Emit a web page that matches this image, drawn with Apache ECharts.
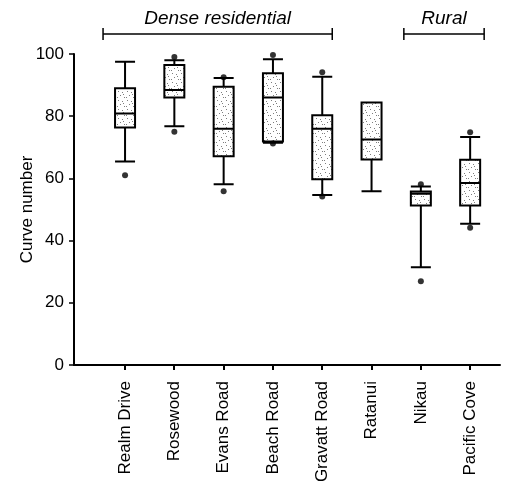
<!DOCTYPE html>
<html>
<head>
<meta charset="utf-8">
<script src="https://cdn.jsdelivr.net/npm/echarts@6/dist/echarts.min.js"></script>
<style>
  html, body { margin: 0; padding: 0; background: #fff; }
  #chart { width: 523px; height: 481px; }
</style>
</head>
<body>
<div id="chart"></div>
<script>
// Curve number distributions per catchment
const categories = ['Realm Drive', 'Rosewood', 'Evans Road', 'Beach Road', 'Gravatt Road', 'Ratanui', 'Nikau', 'Pacific Cove'];
const whiskerLow  = [65.4, 76.8, 58.1, 71.5, 54.7, 55.9, 31.4, 45.4];
const quartile1   = [76.4, 86.0, 67.1, 71.9, 59.7, 66.1, 51.3, 51.3];
const medians     = [80.9, 88.4, 76.0, 86.0, 76.0, 72.5, 55.1, 58.5];
const quartile3   = [89.0, 96.5, 89.5, 93.8, 80.3, 84.4, 55.8, 66.0];
const whiskerHigh = [97.5, 98.0, 92.3, 98.3, 92.7, 84.4, 57.4, 73.3];
const outliers = [
  [61.0, 100.4],
  [75.0, 99.0],
  [55.9, 92.5],
  [71.2, 99.7],
  [54.2, 94.1],
  [],
  [26.9, 58.1],
  [44.1, 74.8]
];
const yTicks = [0, 20, 40, 60, 80, 100];
const groups = [
  { label: 'Dense residential', from: 'Realm Drive', to: 'Gravatt Road', padL: 22, padR: 10 },
  { label: 'Rural', from: 'Nikau', to: 'Pacific Cove', padL: 17, padR: 14 }
];

const FONT = "'Liberation Sans', Arial, sans-serif";
const GRID_BOTTOM = 116;

// sparse stippled fill used inside the boxes
function stipple() {
  const c = document.createElement('canvas');
  c.width = 9; c.height = 9;
  const g = c.getContext('2d');
  g.fillStyle = '#ffffff';
  g.fillRect(0, 0, 9, 9);
  g.fillStyle = '#7e7e7e';
  [[1, 1], [5, 2], [3, 5], [7, 7], [0, 7], [6, 4]].forEach(p => g.fillRect(p[0], p[1], 1, 1));
  return c;
}

const boxData = categories.map((_, i) => [whiskerLow[i], quartile1[i], medians[i], quartile3[i], whiskerHigh[i]]);
const outlierPts = [];
outliers.forEach((list, i) => list.forEach(v => outlierPts.push([categories[i], v])));

const chart = echarts.init(document.getElementById('chart'));
chart.setOption({
  animation: false,
  backgroundColor: '#fff',
  grid: [
    { left: 74, top: 54, right: 23, bottom: GRID_BOTTOM, outerBoundsMode: 'none', containLabel: false },
    { left: 100.4, top: 54, width: 394.4, bottom: GRID_BOTTOM, outerBoundsMode: 'none', containLabel: false }
  ],
  xAxis: [
    {
      gridIndex: 0, type: 'value', min: 0, max: 1,
      axisLine: { show: true, lineStyle: { color: '#000', width: 2 } },
      axisTick: { show: false }, axisLabel: { show: false }, splitLine: { show: false }
    },
    {
      gridIndex: 1, type: 'category', data: categories, boundaryGap: true,
      axisLine: { show: false },
      axisTick: { show: false },
      axisLabel: { rotate: 90, interval: 0, margin: 16, color: '#000', fontSize: 17, fontFamily: FONT },
      splitLine: { show: false }
    }
  ],
  yAxis: [
    {
      gridIndex: 0, type: 'value', min: 0, max: 100, interval: 20,
      name: 'Curve number', nameLocation: 'middle', nameGap: 38, nameMoveOverlap: false,
      nameTextStyle: { color: '#000', fontSize: 17, fontFamily: FONT },
      axisLine: { show: true, lineStyle: { color: '#000', width: 2 } },
      axisTick: { show: true, length: 5, inside: false, lineStyle: { color: '#000', width: 1.5 } },
      axisLabel: { color: '#000', fontSize: 17, fontFamily: FONT, margin: 10,
        formatter: v => yTicks.includes(v) ? String(v) : '' },
      splitLine: { show: false }
    },
    {
      gridIndex: 1, type: 'value', min: 0, max: 100, show: false, splitLine: { show: false }
    }
  ],
  series: [
    {
      type: 'boxplot', xAxisIndex: 1, yAxisIndex: 1,
      data: boxData,
      boxWidth: [20, 20],
      itemStyle: {
        color: { image: stipple(), repeat: 'repeat' },
        borderColor: '#000', borderWidth: 2
      }
    },
    {
      type: 'scatter', xAxisIndex: 1, yAxisIndex: 1,
      data: outlierPts, symbol: 'circle', symbolSize: 6,
      itemStyle: { color: '#000' }, z: 5
    }
  ]
});

const graphics = [];
const ls = { stroke: '#000', lineWidth: 1.5 };

// category tick marks under the baseline
let baseY = chart.convertToPixel({ yAxisIndex: 0 }, 0);
if (!isFinite(baseY)) baseY = chart.getHeight() - GRID_BOTTOM;
categories.forEach(c => {
  const x = Math.round(chart.convertToPixel({ xAxisIndex: 1 }, c));
  graphics.push({
    type: 'line', z: 100,
    shape: { x1: x, y1: baseY, x2: x, y2: baseY + 5 },
    style: { stroke: '#000', lineWidth: 2 }
  });
});

// group brackets above the boxes, placed from the category positions
const bracketY = 34;
groups.forEach(g => {
  const x0 = chart.convertToPixel({ xAxisIndex: 1 }, g.from) - g.padL;
  const x1 = chart.convertToPixel({ xAxisIndex: 1 }, g.to) + g.padR;
  graphics.push({ type: 'line', shape: { x1: x0, y1: bracketY, x2: x1, y2: bracketY }, style: ls });
  graphics.push({ type: 'line', shape: { x1: x0, y1: bracketY - 6, x2: x0, y2: bracketY + 6 }, style: ls });
  graphics.push({ type: 'line', shape: { x1: x1, y1: bracketY - 6, x2: x1, y2: bracketY + 6 }, style: ls });
  graphics.push({
    type: 'text', x: (x0 + x1) / 2, y: 19,
    style: { text: g.label, fill: '#000', font: 'italic 19px ' + FONT, textAlign: 'center', textVerticalAlign: 'middle' }
  });
});
chart.setOption({ graphic: graphics });
</script>
</body>
</html>
